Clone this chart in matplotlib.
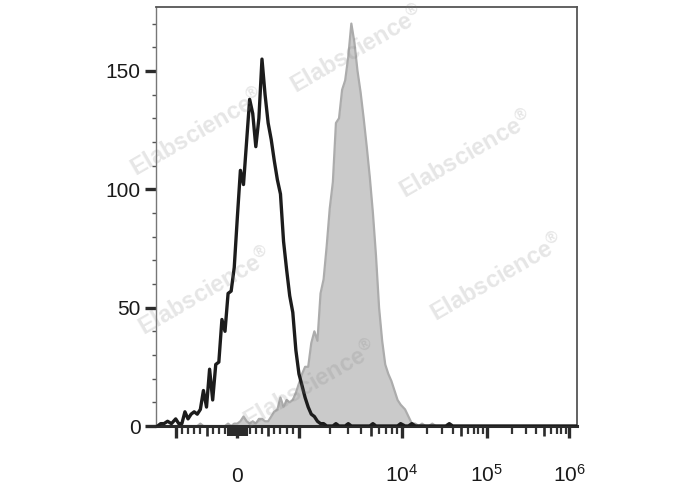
import numpy as np
import matplotlib

matplotlib.use("Agg")

import matplotlib.pyplot as plt

plt.rcParams["font.family"] = ["Liberation Sans", "DejaVu Sans"]
plt.rcParams["mathtext.fontset"] = "custom"
plt.rcParams["mathtext.rm"] = "Liberation Sans"
plt.rcParams["mathtext.it"] = "Liberation Sans:italic"
plt.rcParams["mathtext.bf"] = "Liberation Sans:bold"

# bin centres (fluorescence intensity)
BIN_CENTRES = [
    -1500, -1400, -1300, -1200, -1100,
    -1000, -950, -900, -850, -800, -750, -700, -650, -600, -550,
    -500, -450, -400, -350, -300, -250, -200, -150, -100, -50,
    0, 50, 100, 150, 200, 250, 300, 350, 400, 450,
    500, 550, 600, 650, 700, 750, 800, 850, 900, 950, 1000,
    1072, 1148, 1230, 1318, 1413, 1514, 1622, 1738, 1862, 1995,
    2138, 2291, 2455, 2630, 2818, 3020, 3236, 3467, 3715, 3981,
    4266, 4571, 4898, 5248, 5623, 6026, 6457, 6918, 7413, 7943,
    8511, 9120, 9772,
    10965, 12023, 13183, 14454, 15849, 17378, 19055, 20893, 22909, 25119,
    27542, 30200, 33113, 36308, 39811, 43652,
    100000, 1000000, 1200000,
]

# unstained control (black outline)
CONTROL_COUNTS = [
    0, 1, 1, 2, 1,
    3, 1, 1, 6, 3, 5, 6, 5, 7, 15,
    8, 24, 11, 26, 27, 45, 40, 56, 57, 67,
    88, 108, 102, 120, 138, 132, 118, 130, 155, 140,
    128, 121, 112, 104, 98, 78, 66, 55, 48, 32, 22,
    17, 12, 8, 5, 4, 2, 1, 1, 0, 0,
    0, 1, 0, 0, 0, 1, 0, 0, 0, 0,
    0, 0, 0, 1, 0, 0, 0, 0, 0, 0,
    0, 0, 1,
    0, 0, 1, 0, 0, 0, 0, 0, 0, 0,
    0, 0, 0, 1, 0, 0,
    0, 0, 0,
]

# stained sample (grey filled)
STAINED_COUNTS = [
    0, 0, 0, 0, 0,
    0, 0, 0, 0, 0, 0, 0, 0, 1, 0,
    0, 0, 0, 0, 0, 0, 0, 1, 0, 1,
    1, 2, 4, 2, 1, 2, 1, 3, 3, 2,
    2, 4, 6, 7, 12, 8, 11, 10, 11, 14, 18,
    22, 25, 25, 35, 40, 36, 56, 62, 76, 92,
    103, 128, 130, 142, 146, 156, 170, 162, 150, 141,
    130, 118, 105, 90, 72, 50, 36, 26, 22, 19,
    15, 11, 9,
    7, 4, 1, 1, 0, 1, 0, 0, 1, 0,
    0, 0, 0, 0, 0, 0,
    0, 0, 0,
]

Y_MAJOR = [0, 50, 100, 150]
X_MAJOR = [-1000, 0, 1000, 1e4, 1e5, 1e6]
X_LABELS = ["", "0", "", r"$10^{4}$", r"$10^{5}$", r"$10^{6}$"]

# biexponential-like display: linear within +-1000, log decades outside
SEG_U = np.array([-5.0, -3.0, 3.0, 4.0, 5.0, 6.0, 7.0])
SEG_D = np.array([-2.0, 0.0, 1.2, 2.2, 3.028, 3.832, 4.636])


def _to_u(v):
    v = np.asarray(v, dtype=float)
    a = np.abs(v)
    return np.where(a <= 1000, v * 3 / 1000, np.sign(v) * np.log10(np.maximum(a, 1000)))


def _fwd(v):
    return np.interp(_to_u(v), SEG_U, SEG_D)


def _inv(d):
    u = np.interp(np.asarray(d, dtype=float), SEG_D, SEG_U)
    return np.where(np.abs(u) <= 3, u * 1000 / 3, np.sign(u) * 10 ** np.abs(u))


fig = plt.figure(figsize=(6.88, 4.90), dpi=100)
ax = fig.add_axes([0.2267, 0.1306, 0.6120, 0.8551])
ax.set_xscale("function", functions=(_fwd, _inv))

ax.fill_between(BIN_CENTRES, STAINED_COUNTS, 0, color="#cacaca", linewidth=0, zorder=1)
ax.plot(BIN_CENTRES, STAINED_COUNTS, color="#acacac", linewidth=1.6, zorder=2)
ax.plot(BIN_CENTRES, CONTROL_COUNTS, color="#1c1c1c", linewidth=2.4, zorder=3)

ax.set_xlim(-1556, 1.24e6)
ax.set_ylim(0, 177)

# x ticks
ax.set_xticks(X_MAJOR)
ax.set_xticklabels(X_LABELS)
minor_x = [s * m for s in (-1, 1) for m in (200, 300, 400, 600, 700, 800, 900)]
minor_x += [m * 10 ** e for e in (3, 4, 5) for m in (2, 3, 4, 6, 7, 8, 9)]
ax.set_xticks(minor_x, minor=True)
ax.tick_params(axis="x", which="major", direction="out", length=8.5, width=2.4,
               color="#2b2b2b", pad=32, labelsize=15, labelcolor="#1a1a1a")
ax.tick_params(axis="x", which="minor", direction="out", length=5.5, width=1.6, color="#333333")
for lbl in ax.get_xticklabels():
    lbl.set_verticalalignment("baseline")

# y ticks
ax.set_yticks(Y_MAJOR)
ax.set_yticks(np.arange(0, 171, 10), minor=True)
ax.tick_params(axis="y", which="major", direction="out", length=8, width=2.4,
               color="#2b2b2b", pad=3, labelsize=15, labelcolor="#1a1a1a")
ax.tick_params(axis="y", which="minor", direction="out", length=3.2, width=1.0, color="#555555")

# second tick level (half-decade ticks and the dense block around zero)
ax2 = ax.twiny()
ax2.set_xscale("function", functions=(_fwd, _inv))
ax2.set_xlim(ax.get_xlim())
ax2.xaxis.set_ticks_position("bottom")
ax2.set_xticks([-500, 500, 5e3, 5e4, 5e5])
ax2.set_xticks([s * m for s in (-1, 1) for m in range(10, 151, 10)], minor=True)
ax2.tick_params(axis="x", which="major", direction="out", length=7, width=1.9,
                color="#2b2b2b", labelbottom=False, labeltop=False)
ax2.tick_params(axis="x", which="minor", direction="out", length=7.5, width=1.5,
                color="#2b2b2b", labelbottom=False, labeltop=False)
for sp in ax2.spines.values():
    sp.set_visible(False)

ax.spines["left"].set_color("#777777")
ax.spines["left"].set_linewidth(1.0)
ax.spines["bottom"].set_color("#2b2b2b")
ax.spines["bottom"].set_linewidth(2.2)
ax.spines["top"].set_color("#555555")
ax.spines["top"].set_linewidth(1.3)
ax.spines["right"].set_color("#555555")
ax.spines["right"].set_linewidth(1.3)

# watermark
for wx, wy in [(357, 50), (197, 133), (466, 155), (497, 278), (205, 292), (310, 385)]:
    fig.text(wx / 688, 1 - wy / 490, r"$\mathbf{Elabscience}^{\mathbf{®}}$", rotation=30,
             color="#808080", alpha=0.2, fontsize=17, ha="center", va="center", zorder=10)

fig.savefig("out.png", dpi=100)
